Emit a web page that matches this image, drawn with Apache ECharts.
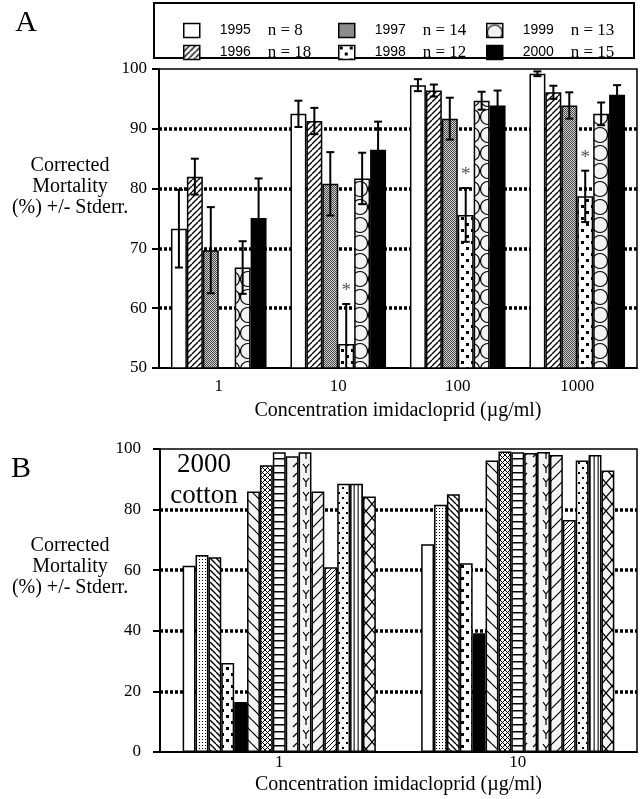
<!DOCTYPE html>
<html>
<head>
<meta charset="utf-8">
<script src="https://cdn.jsdelivr.net/npm/echarts@6/dist/echarts.min.js"></script>
<style>
  html, body { margin: 0; padding: 0; background: #fff; }
  #chart { width: 642px; height: 799px; }
</style>
</head>
<body>
<div id="chart"></div>
<script>
// ---- Panel A: corrected mortality by collection year (mean and standard error) ----
const concentrations = ['1', '10', '100', '1000'];
const yearsA = ['1995', '1996', '1997', '1998', '1999', '2000'];
const sampleSizes = [8, 18, 14, 12, 13, 15];

const mort1995 = [73.3, 92.5, 97.3, 99.2];
const err1995  = [6.5, 2.2, 1.0, 0.4];
const mort1996 = [82.0, 91.3, 96.4, 96.1];
const err1996  = [3.0, 2.2, 1.0, 1.1];
const mort1997 = [69.7, 80.8, 91.7, 93.9];
const err1997  = [7.2, 5.3, 3.5, 2.2];
const mort1998 = [null, 54.0, 75.6, 78.7];
const err1998  = [null, 6.7, 4.5, 4.3];
const mort1999 = [66.8, 81.7, 94.7, 92.5];
const err1999  = [4.4, 4.3, 1.5, 1.9];
const mort2000 = [75.1, 86.5, 93.9, 95.7];
const err2000  = [6.6, 4.7, 2.5, 1.6];
const signif1998 = [false, true, true, true];

const yTicksA = [50, 60, 70, 80, 90, 100];

// ---- Panel B: 2000 cotton collections ----
const concentrationsB = ['1', '10'];
const cottonAt1  = [61.5, 65.0, 64.3, 29.4, 16.5, 86.0, 94.6, 98.9, 97.6, 98.9, 86.0, 61.0, 88.5, 88.5, 84.3];
const cottonAt10 = [68.6, 81.6, 85.1, 62.3, 39.2, 96.2, 99.2, 98.9, 98.7, 99.0, 98.0, 76.6, 96.2, 98.0, 92.9];
const yTicksB = [0, 20, 40, 60, 80, 100];

// ---- fill patterns ----
function tile(w, h, bg, draw) {
  const c = document.createElement('canvas');
  c.width = w; c.height = h;
  const g = c.getContext('2d');
  g.fillStyle = bg; g.fillRect(0, 0, w, h);
  g.strokeStyle = '#000'; g.fillStyle = '#000';
  if (draw) draw(g, w, h);
  return { image: c, repeat: 'repeat' };
}
function slashLines(g, w, h, lw, back) {
  g.lineWidth = lw;
  g.beginPath();
  for (let k = -1; k <= 1; k++) {
    if (back) { g.moveTo(k * w, 0); g.lineTo(k * w + w, h); }
    else { g.moveTo(k * w, h); g.lineTo(k * w + w, 0); }
  }
  g.stroke();
}
const P = {
  white: '#ffffff',
  black: '#000000',
  slash: tile(6, 6, '#fff', (g, w, h) => slashLines(g, w, h, 1.4, false)),
  backslash: tile(6, 6, '#fff', (g, w, h) => slashLines(g, w, h, 1.4, true)),
  greyDots: tile(2, 2, '#cfcfcf', g => { g.fillStyle = '#4a4a4a'; g.fillRect(0, 0, 1, 1); g.fillRect(1, 1, 1, 1); }),
  squares: tile(10, 12, '#fff', g => { g.fillRect(1, 1, 3, 3); g.fillRect(6, 7, 3, 3); }),
  rings: tile(16, 18, '#f3f3f3', g => {
    g.lineWidth = 1.2;
    g.beginPath(); g.arc(8, 9, 7.5, 0, Math.PI * 2); g.stroke();
  }),
  fineDots: tile(3, 3, '#fff', g => { g.fillRect(1, 1, 1, 1); }),
  sparseBack: tile(12, 12, '#f4f4f4', (g, w, h) => slashLines(g, w, h, 1.2, true)),
  hatch: tile(5, 5, '#fff', (g, w, h) => { slashLines(g, w, h, 1, true); slashLines(g, w, h, 1, false); }),
  ladder: tile(7, 7, '#fff', g => { g.fillRect(0, 3, 7, 1.5); }),
  dashes: tile(10, 10, '#f4f4f4', g => {
    g.lineWidth = 1.2; g.beginPath(); g.moveTo(3, 7); g.lineTo(7, 3); g.stroke();
  }),
  forks: tile(12, 14, '#f4f4f4', g => {
    g.lineWidth = 1.2; g.beginPath();
    g.moveTo(3, 2); g.lineTo(6, 6); g.lineTo(9, 2);
    g.moveTo(6, 6); g.lineTo(6, 11); g.stroke();
  }),
  sparseSlash: tile(12, 12, '#f4f4f4', (g, w, h) => slashLines(g, w, h, 1.2, false)),
  denseSlash: tile(5, 5, '#fff', (g, w, h) => slashLines(g, w, h, 1, false)),
  sparseDots: tile(8, 10, '#f8f8f8', g => { g.fillRect(2, 2, 2, 2); g.fillRect(6, 7, 2, 2); }),
  vstripes: tile(4, 2, '#fff', g => {
    g.fillStyle = '#999'; g.fillRect(1, 0, 1, 2);
    g.fillStyle = '#555'; g.fillRect(2, 0, 1, 2);
  }),
  chain: tile(12, 14, '#f4f4f4', g => {
    g.lineWidth = 1.2; g.beginPath();
    g.moveTo(0, 0); g.lineTo(6, 7); g.lineTo(0, 14);
    g.moveTo(12, 0); g.lineTo(6, 7); g.lineTo(12, 14); g.stroke();
  })
};

const fillsA = [P.white, P.slash, P.greyDots, P.squares, P.rings, P.black];
const fillsB = [P.white, P.fineDots, P.backslash, P.squares, P.black, P.sparseBack, P.hatch,
  P.ladder, P.dashes, P.forks, P.sparseSlash, P.denseSlash, P.sparseDots, P.vstripes, P.chain];

const mortA = [mort1995, mort1996, mort1997, mort1998, mort1999, mort2000];
const errA  = [err1995, err1996, err1997, err1998, err1999, err2000];

const GAP_A = 0.20, GAP_B = 0.19;

// error bars drawn at the slot of the matching bar
function errorBars(slot, count, gapRatio, yMin) {
  return function (params, api) {
    const cat = api.value(0), val = api.value(1), e = api.value(2), star = api.value(3);
    const band = api.size([1, 0])[0];
    const group = band * (1 - gapRatio);
    const bw = group / count;
    const cx = api.coord([cat, val])[0] - group / 2 + bw * (slot + 0.5);
    const top = api.coord([cat, val + e])[1];
    const lowVal = Math.max(val - e, yMin);
    const bot = api.coord([cat, lowVal])[1];
    const cap = 4;
    const st = { stroke: '#000', lineWidth: 2 };
    const children = [
      { type: 'line', shape: { x1: cx, y1: top, x2: cx, y2: bot }, style: st },
      { type: 'line', shape: { x1: cx - cap, y1: top, x2: cx + cap, y2: top }, style: st }
    ];
    if (val - e > yMin) {
      children.push({ type: 'line', shape: { x1: cx - cap, y1: bot, x2: cx + cap, y2: bot }, style: st });
    }
    if (star) {
      children.push({ type: 'text', style: {
        text: '*', x: cx, y: top - 13, align: 'center', verticalAlign: 'middle',
        fontFamily: 'Liberation Serif', fontSize: 19, fill: '#555'
      } });
    }
    return { type: 'group', children };
  };
}

const series = [];
yearsA.forEach((yr, i) => {
  series.push({
    name: yr, type: 'bar', xAxisIndex: 0, yAxisIndex: 0,
    data: mortA[i], barGap: '0%', barCategoryGap: (GAP_A * 100) + '%',
    itemStyle: { color: fillsA[i], borderColor: '#000', borderWidth: 1.5 },
    emphasis: { disabled: true }
  });
});
yearsA.forEach((yr, i) => {
  const data = [];
  mortA[i].forEach((v, c) => {
    if (v != null) data.push([c, v, errA[i][c], (i === 3 && signif1998[c]) ? 1 : 0]);
  });
  series.push({
    name: yr + ' error', type: 'custom', xAxisIndex: 0, yAxisIndex: 0, z: 5,
    renderItem: errorBars(i, yearsA.length, GAP_A, 50),
    encode: { x: 0, y: 1 }, data, silent: true
  });
});
fillsB.forEach((f, i) => {
  series.push({
    name: 'cotton ' + (i + 1), type: 'bar', xAxisIndex: 1, yAxisIndex: 1,
    data: [cottonAt1[i], cottonAt10[i]], barGap: '0%', barCategoryGap: (GAP_B * 100) + '%',
    itemStyle: { color: f, borderColor: '#000', borderWidth: 1.5 },
    emphasis: { disabled: true }
  });
});

const serif = 'Liberation Serif';
const gridLineColors = ['rgba(0,0,0,0)', '#000', '#000', '#000', '#000', 'rgba(0,0,0,0)'];

function xAxisCfg(gridIndex, cats, labelMargin, nameGap) {
  return {
    type: 'category', gridIndex, data: cats,
    axisLine: { lineStyle: { color: '#000', width: 2 } },
    axisTick: { length: 6, lineStyle: { color: '#000', width: 2 } },
    axisLabel: { color: '#000', fontFamily: serif, fontSize: 17, margin: labelMargin },
    name: 'Concentration imidacloprid (\u00b5g/ml)', nameLocation: 'middle', nameGap,
    nameTextStyle: { color: '#000', fontFamily: serif, fontSize: 20 }
  };
}
function yAxisCfg(gridIndex, ticks, labelMargin) {
  return {
    type: 'value', gridIndex, min: ticks[0], max: ticks[ticks.length - 1],
    interval: ticks[1] - ticks[0],
    axisLine: { show: true, lineStyle: { color: '#000', width: 2 } },
    axisTick: { show: true, length: 7, lineStyle: { color: '#000', width: 2 } },
    axisLabel: { color: '#000', fontFamily: serif, fontSize: 17, margin: labelMargin },
    splitLine: { show: true, lineStyle: { color: gridLineColors, width: 3.5, type: [3, 2] } }
  };
}

const legendCols = [178, 333, 481];
const legends = yearsA.map((yr, i) => ({
  data: [yr], left: legendCols[Math.floor(i / 2)], top: 17 + (i % 2) * 22,
  icon: 'rect', itemWidth: 16, itemHeight: 14, selectedMode: false,
  itemStyle: { borderColor: '#000', borderWidth: 1.5 },
  formatter: name => '{y|' + name + '}{n|n = ' + sampleSizes[yearsA.indexOf(name)] + '}',
  textStyle: {
    rich: {
      y: { fontFamily: 'Liberation Sans', fontSize: 14, color: '#000', width: 48, padding: [0, 0, 0, 15] },
      n: { fontFamily: serif, fontSize: 17, color: '#000' }
    }
  }
}));

const yTitleText = 'Corrected\nMortality\n(%) +/- Stderr.';

const option = {
  animation: false,
  backgroundColor: '#fff',
  grid: [
    { left: 159, right: 5, top: 69, height: 299, show: true, borderColor: '#000', borderWidth: 1.5, backgroundColor: 'transparent' },
    { left: 160, right: 5, top: 449, height: 303, show: true, borderColor: '#000', borderWidth: 1.5, backgroundColor: 'transparent' }
  ],
  xAxis: [xAxisCfg(0, concentrations, 10, 33), xAxisCfg(1, concentrationsB, 2, 23)],
  yAxis: [yAxisCfg(0, yTicksA, 12), yAxisCfg(1, yTicksB, 19)],
  legend: legends,
  graphic: [
    { type: 'rect', shape: { x: 154, y: 3, width: 480, height: 55 },
      style: { fill: 'none', stroke: '#000', lineWidth: 2 } },
    { type: 'text', x: 26, y: 23, style: { text: 'A', align: 'center', verticalAlign: 'middle', fontFamily: serif, fontSize: 30, fill: '#000' } },
    { type: 'text', x: 21, y: 469, style: { text: 'B', align: 'center', verticalAlign: 'middle', fontFamily: serif, fontSize: 30, fill: '#000' } },
    { type: 'text', x: 70, y: 187, style: { text: yTitleText, align: 'center', verticalAlign: 'middle', fontFamily: serif, fontSize: 20, lineHeight: 21, fill: '#000' } },
    { type: 'text', x: 70, y: 567, style: { text: yTitleText, align: 'center', verticalAlign: 'middle', fontFamily: serif, fontSize: 20, lineHeight: 21, fill: '#000' } },
    { type: 'text', x: 204, y: 480, z: 10, style: { text: '2000\ncotton', align: 'center', verticalAlign: 'middle', fontFamily: serif, fontSize: 27, lineHeight: 31, fill: '#000' } }
  ],
  series
};

const chart = echarts.init(document.getElementById('chart'), null, { renderer: 'canvas' });
chart.setOption(option);
</script>
</body>
</html>
